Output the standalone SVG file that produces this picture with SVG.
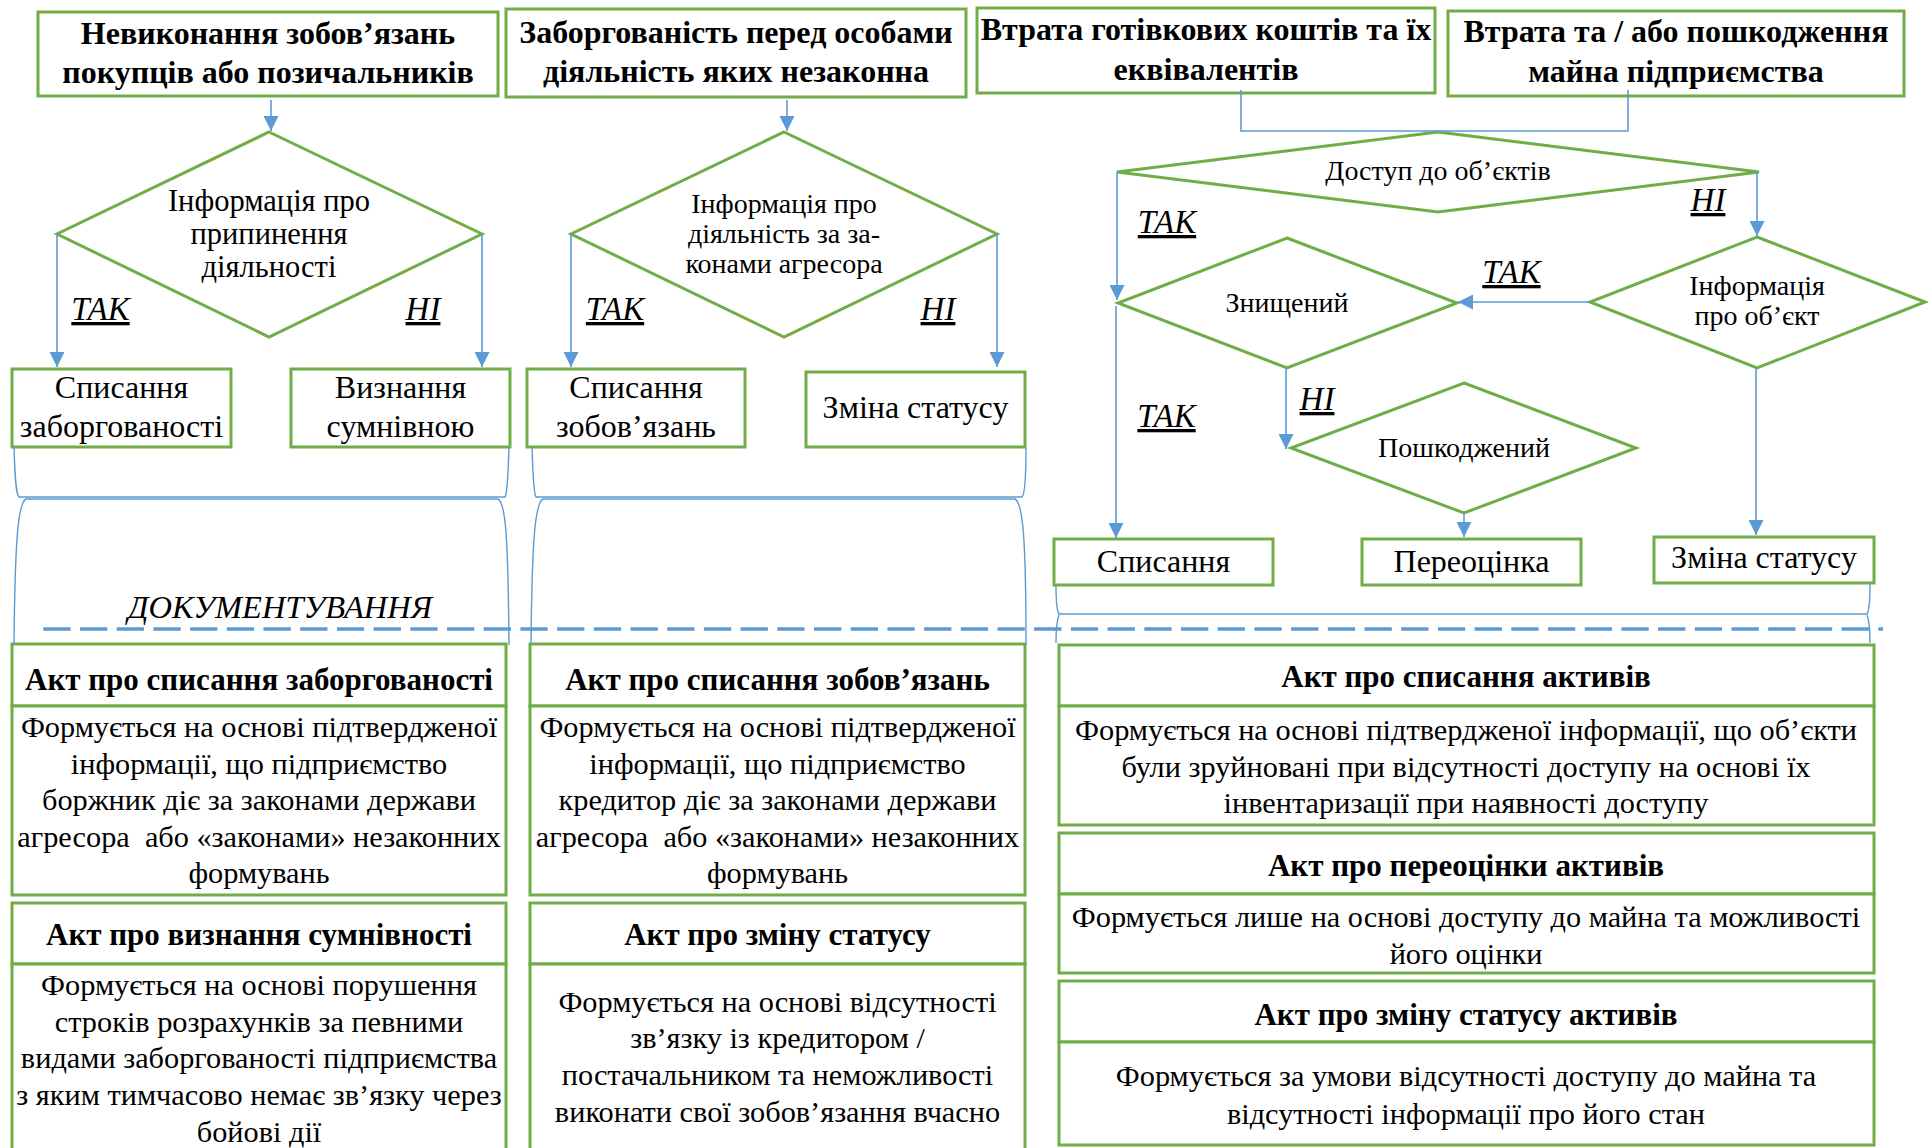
<svg xmlns="http://www.w3.org/2000/svg" width="1928" height="1148" viewBox="0 0 1928 1148">
<style>
.box{fill:#fff;stroke:#70AD47;stroke-width:3}
.dia{fill:#fff;stroke:#70AD47;stroke-width:3}
.ln{fill:none;stroke:#5B9BD5;stroke-width:1.6}
.br{fill:none;stroke:#5B9BD5;stroke-width:1.4}
.dash{fill:none;stroke:#5B9BD5;stroke-width:3.5;stroke-dasharray:27.3 9.4}
text{font-family:"Liberation Serif","Times New Roman",serif;fill:#000;text-anchor:middle}
.hb{font-weight:bold;font-size:32px}
.ab{font-weight:bold;font-size:31px}
.d1{font-size:30.5px}
.d2{font-size:28px}
.d3{font-size:28px}
.sb{font-size:32px}
.bd{font-size:30.3px}
.lab{font-style:italic;font-size:33px;text-decoration:underline}
.doc{font-style:italic;font-size:32.5px}
</style>
<defs>
<marker id="arr" viewBox="0 0 10 10" refX="10" refY="5" markerUnits="userSpaceOnUse" markerWidth="15" markerHeight="15" orient="auto"><path d="M0,0 L10,5 L0,10 z" fill="#5B9BD5"/></marker>
</defs>
<rect width="1928" height="1148" fill="#fff"/>

<g id="top1"><rect class="box" x="38" y="12" width="460" height="84"/><text class="hb" x="268" y="44">Невиконання зобов’язань</text><text class="hb" x="268" y="83">покупців або позичальників</text></g>
<g id="top2"><rect class="box" x="506" y="9" width="460" height="88"/><text class="hb" x="736" y="43">Заборгованість перед особами</text><text class="hb" x="736" y="82">діяльність яких незаконна</text></g>
<g id="top3"><rect class="box" x="977" y="8" width="458" height="85"/><text class="hb" x="1206" y="40">Втрата готівкових коштів та їх</text><text class="hb" x="1206" y="80">еквівалентів</text></g>
<g id="top4"><rect class="box" x="1448" y="11" width="456" height="85"/><text class="hb" x="1676" y="42">Втрата та / або пошкодження</text><text class="hb" x="1676" y="82">майна підприємства</text></g>

<g id="dec1"><polygon class="dia" points="269,132 482,234 269,337 57,234"/><text class="d1" x="269" y="211">Інформація про</text><text class="d1" x="269" y="244">припинення</text><text class="d1" x="269" y="277">діяльності</text></g>
<g id="dec2"><polygon class="dia" points="784,132 997,234 784,337 571,234"/><text class="d2" x="784" y="213">Інформація про</text><text class="d2" x="784" y="243">діяльність за за-</text><text class="d2" x="784" y="273">конами агресора</text></g>
<g id="dec3"><polygon class="dia" points="1438,132 1759,172 1438,212 1117,172"/><text class="d3" x="1438" y="180">Доступ до об’єктів</text></g>
<g id="dec4"><polygon class="dia" points="1287,238 1457,303 1287,368 1118,303"/><text class="d3" x="1287" y="312">Знищений</text></g>
<g id="dec5"><polygon class="dia" points="1757,237 1925,302 1757,368 1590,302"/><text class="d3" x="1757" y="295">Інформація</text><text class="d3" x="1757" y="325">про об’єкт</text></g>
<g id="dec6"><polygon class="dia" points="1464,383 1636,448 1464,513 1291,448"/><text class="d3" x="1464" y="457">Пошкоджений</text></g>

<g id="r1"><rect class="box" x="12" y="369" width="219" height="78"/><text class="sb" x="121.5" y="398">Списання</text><text class="sb" x="121.5" y="437">заборгованості</text></g>
<g id="r2"><rect class="box" x="291" y="369" width="219" height="78"/><text class="sb" x="400.5" y="398">Визнання</text><text class="sb" x="400.5" y="437">сумнівною</text></g>
<g id="r3"><rect class="box" x="527" y="369" width="218" height="78"/><text class="sb" x="636" y="398">Списання</text><text class="sb" x="636" y="437">зобов’язань</text></g>
<g id="r4"><rect class="box" x="806" y="372" width="219" height="75"/><text class="sb" x="915.5" y="418">Зміна статусу</text></g>
<g id="r5"><rect class="box" x="1054" y="539" width="219" height="46"/><text class="sb" x="1163.5" y="572">Списання</text></g>
<g id="r6"><rect class="box" x="1362" y="539" width="219" height="46"/><text class="sb" x="1471.5" y="572">Переоцінка</text></g>
<g id="r7"><rect class="box" x="1654" y="537" width="220" height="46"/><text class="sb" x="1764" y="568">Зміна статусу</text></g>

<g id="act1"><rect class="box" x="12" y="644" width="494" height="62"/><rect class="box" x="12" y="706" width="494" height="189"/><text class="ab" x="259" y="690">Акт про списання заборгованості</text><text class="bd" x="259" y="737">Формується на основі підтвердженої</text><text class="bd" x="259" y="773.5">інформації, що підприємство</text><text class="bd" x="259" y="810">боржник діє за законами держави</text><text class="bd" x="259" y="846.5">агресора&#160; або «законами» незаконних</text><text class="bd" x="259" y="883">формувань</text></g>
<g id="act2"><rect class="box" x="12" y="903" width="494" height="61"/><rect class="box" x="12" y="964" width="494" height="200"/><text class="ab" x="259" y="945">Акт про визнання сумнівності</text><text class="bd" x="259" y="995">Формується на основі порушення</text><text class="bd" x="259" y="1032">строків розрахунків за певними</text><text class="bd" x="259" y="1068">видами заборгованості підприємства</text><text class="bd" x="259" y="1105">з яким тимчасово немає зв’язку через</text><text class="bd" x="259" y="1142">бойові дії</text></g>
<g id="act3"><rect class="box" x="530" y="644" width="495" height="62"/><rect class="box" x="530" y="706" width="495" height="189"/><text class="ab" x="777.5" y="690">Акт про списання зобов’язань</text><text class="bd" x="777.5" y="737">Формується на основі підтвердженої</text><text class="bd" x="777.5" y="773.5">інформації, що підприємство</text><text class="bd" x="777.5" y="810">кредитор діє за законами держави</text><text class="bd" x="777.5" y="846.5">агресора&#160; або «законами» незаконних</text><text class="bd" x="777.5" y="883">формувань</text></g>
<g id="act4"><rect class="box" x="530" y="903" width="495" height="61"/><rect class="box" x="530" y="964" width="495" height="200"/><text class="ab" x="777.5" y="945">Акт про зміну статусу</text><text class="bd" x="777.5" y="1012">Формується на основі відсутності</text><text class="bd" x="777.5" y="1048">зв’язку із кредитором /</text><text class="bd" x="777.5" y="1085">постачальником та неможливості</text><text class="bd" x="777.5" y="1122">виконати свої зобов’язання вчасно</text></g>
<g id="act5"><rect class="box" x="1059" y="645" width="815" height="61"/><rect class="box" x="1059" y="706" width="815" height="119"/><text class="ab" x="1466" y="687">Акт про списання активів</text><text class="bd" x="1466" y="740">Формується на основі підтвердженої інформації, що об’єкти</text><text class="bd" x="1466" y="776.5">були зруйновані при відсутності доступу на основі їх</text><text class="bd" x="1466" y="813">інвентаризації при наявності доступу</text></g>
<g id="act6"><rect class="box" x="1059" y="833" width="815" height="61"/><rect class="box" x="1059" y="894" width="815" height="79"/><text class="ab" x="1466" y="876">Акт про переоцінки активів</text><text class="bd" x="1466" y="927">Формується лише на основі доступу до майна та можливості</text><text class="bd" x="1466" y="963.5">його оцінки</text></g>
<g id="act7"><rect class="box" x="1059" y="981" width="815" height="61"/><rect class="box" x="1059" y="1042" width="815" height="103"/><text class="ab" x="1466" y="1025">Акт про зміну статусу активів</text><text class="bd" x="1466" y="1086">Формується за умови відсутності доступу до майна та</text><text class="bd" x="1466" y="1124">відсутності інформації про його стан</text></g>

<g id="connectors">
<line class="ln" x1="271" y1="100" x2="271" y2="131" marker-end="url(#arr)"/>
<line class="ln" x1="57" y1="234" x2="57" y2="367" marker-end="url(#arr)"/>
<line class="ln" x1="482" y1="234" x2="482" y2="367" marker-end="url(#arr)"/>
<line class="ln" x1="787" y1="100" x2="787" y2="131" marker-end="url(#arr)"/>
<line class="ln" x1="571" y1="234" x2="571" y2="367" marker-end="url(#arr)"/>
<line class="ln" x1="997" y1="234" x2="997" y2="367" marker-end="url(#arr)"/>
<polyline class="ln" points="1241,90 1241,131 1628,131 1628,90"/>
<line class="ln" x1="1117" y1="172" x2="1117" y2="300" marker-end="url(#arr)"/>
<line class="ln" x1="1757" y1="172" x2="1757" y2="236" marker-end="url(#arr)"/>
<line class="ln" x1="1590" y1="302" x2="1458" y2="302" marker-end="url(#arr)"/>
<line class="ln" x1="1116" y1="306" x2="1116" y2="538" marker-end="url(#arr)"/>
<line class="ln" x1="1286" y1="368" x2="1286" y2="449" marker-end="url(#arr)"/>
<line class="ln" x1="1464" y1="513" x2="1464" y2="537" marker-end="url(#arr)"/>
<line class="ln" x1="1756" y1="368" x2="1756" y2="535" marker-end="url(#arr)"/>
<path class="br" d="M14,447 C15,480 16,494 19,497 L505,497 C507,494 508,480 509,447"/>
<path class="br" d="M14,645 C15,540 18,503 26,499 L498,499 C506,503 508,540 509,645"/>
<path class="br" d="M532,447 C533,480 534,494 536,497 L1022,497 C1025,494 1026,480 1026,447"/>
<path class="br" d="M531,645 C532,540 535,503 543,499 L1015,499 C1023,503 1026,540 1026,645"/>
<path class="br" d="M1056,585 C1056,600 1057,611 1059,614 L1867,614 C1869,611 1870,600 1870,584"/>
<path class="br" d="M1056,643 C1056,630 1057,620 1059,615 M1867,615 C1869,620 1870,630 1870,643"/>
<line class="dash" x1="43.3" y1="629" x2="1883" y2="629"/>
<text class="lab" x="100.5" y="320">ТАК</text>
<text class="lab" x="423" y="320">НІ</text>
<text class="lab" x="615" y="320">ТАК</text>
<text class="lab" x="938" y="320">НІ</text>
<text class="lab" x="1167" y="233">ТАК</text>
<text class="lab" x="1708" y="211">НІ</text>
<text class="lab" x="1511.5" y="283">ТАК</text>
<text class="lab" x="1166.5" y="427">ТАК</text>
<text class="lab" x="1317" y="410">НІ</text>
<text class="doc" x="280" y="618">ДОКУМЕНТУВАННЯ</text>
</g>
</svg>
